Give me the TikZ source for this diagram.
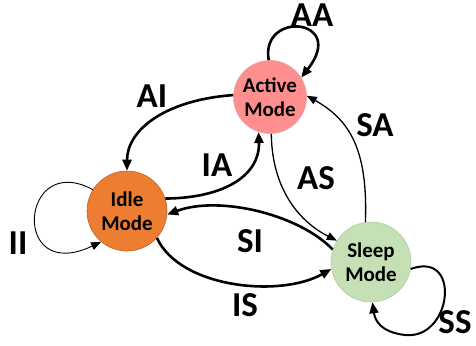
\documentclass[tikz,border=0pt]{standalone}
\usepackage{fontspec}
\setmainfont{Carlito}
\usetikzlibrary{arrows.meta}
\definecolor{activec}{HTML}{FF8F8F}
\definecolor{activeb}{HTML}{E8A0A0}
\definecolor{idlec}{HTML}{ED7D31}
\definecolor{idleb}{HTML}{C0652A}
\definecolor{sleepc}{HTML}{C5E0B4}
\definecolor{sleepb}{HTML}{B0CCA0}
\tikzset{
  state/.style={circle, inner sep=0pt, line width=0.6pt, font=\fontsize{21}{24}\selectfont\bfseries, align=center},
  lbl/.style={font=\fontsize{35}{36}\selectfont\bfseries, inner sep=0pt},
  tipbig/.style={-{Triangle[length=11pt,width=9pt]}},
  thickedge/.style={tipbig, line width=2.6pt},
  medEdge/.style={tipbig, line width=2pt},
  thinedge/.style={-{Triangle[length=10pt,width=8pt]}, line width=1.3pt},
  hairedge/.style={-{Triangle[length=10pt,width=8pt]}, line width=0.9pt},
}
\begin{document}
\begin{tikzpicture}[x=1pt,y=-1pt]
\useasboundingbox (0,0) rectangle (476,345);
\node[state, fill=activec, draw=activeb, minimum size=73pt] (A) at (270,97) {Active\\Mode};
\node[state, fill=idlec, draw=idleb, minimum size=80pt] (I) at (127,211) {Idle\\Mode};
\node[state, fill=sleepc, draw=sleepb, minimum size=80pt] (S) at (371,262) {Sleep\\Mode};
% edges
\draw[thickedge] (A.92) .. controls (260,10) and (348,18) .. (A.32);
\draw[thickedge] (A.177) .. controls (165,100) and (127,130) .. (I.90);
\draw[thickedge] (I.18) .. controls (225,198) and (260,175) .. (A.-108);
\draw[thinedge] (A.-88) .. controls (272,190) and (300,222) .. (S.148);
\draw[thinedge] (S.98) .. controls (368,150) and (350,120) .. (A.2);
\draw[thickedge] (S.162) .. controls (300,215) and (220,195) .. (I.-5);
\draw[thickedge] (I.-42) .. controls (180,288) and (280,298) .. (S.190);
\draw[hairedge] (I.148) .. controls (20,150) and (10,285) .. (I.-130);
\draw[medEdge] (S.-10) .. controls (462,250) and (452,340) .. (405,335) .. controls (380,332) and (375,320) .. (S.-88);
% labels
\node[lbl] (lAA) at (312,15) {AA};
\node[lbl] (lAI) at (152,96) {AI};
\node[lbl] (lIA) at (217,165) {IA};
\node[lbl] (lAS) at (316,178) {AS};
\node[lbl] (lSA) at (375,125) {SA};
\node[lbl] (lSI) at (250,241) {SI};
\node[lbl] (lIS) at (245,305) {IS};
\node[lbl] (lII) at (18,243) {II};
\node[lbl] (lSS) at (455,322) {SS};
\end{tikzpicture}
\end{document}
